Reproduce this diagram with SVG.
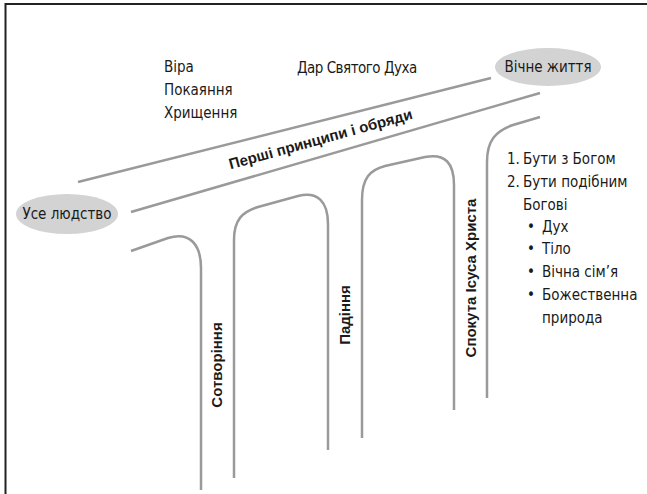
<svg xmlns="http://www.w3.org/2000/svg" width="647" height="494" viewBox="0 0 647 494">
<style>
.frame{stroke:#222;stroke-width:2;fill:none}
.road{stroke:#9a9a9a;stroke-width:2.5;fill:none;stroke-linecap:butt}
.oval{fill:#d3d3d3;stroke:none}
.t{font-family:"Liberation Sans Narrow","DejaVu Sans Condensed","Roboto Condensed","Liberation Sans",sans-serif;font-stretch:condensed;font-size:15px;fill:#1a1a1a}
.b{font-family:"Liberation Sans","DejaVu Sans",sans-serif;font-weight:bold;font-size:15px;fill:#1a1a1a}
</style>
<rect width="647" height="494" fill="#fff"/>
<path class="frame" d="M5.5,494 L5.5,4 L647,4"/>
<g id="connectors">
<path class="road" d="M78,182 L491,78"/>
<path class="road" d="M131,212 L540,93"/>
<path class="road" d="M131,251 L168,238 C190,231 201,245 201,268 L201,490"/>
<path class="road" d="M234,478 L234,240 C234,220 242,212 258,207 L298,196 C318,191 328,202 328,224 L328,450"/>
<path class="road" d="M362,438 L362,200 C362,178 370,170 385,166 L425,157 C445,153 454,163 454,185 L454,410"/>
<path class="road" d="M540,117 L513,125 C496,131 487,140 487,162 L487,398"/>
</g>
<g id="node-all">
<ellipse class="oval" cx="67" cy="214" rx="51" ry="20"/>
<text class="t" x="67" y="219" text-anchor="middle">Усе людство</text>
</g>
<g id="node-eternal">
<ellipse class="oval" cx="548" cy="67" rx="53" ry="19"/>
<text class="t" x="548" y="72" text-anchor="middle">Вічне життя</text>
</g>
<g id="node-principles">
<text class="t" x="164" y="72">Віра</text>
<text class="t" x="164" y="95">Покаяння</text>
<text class="t" x="164" y="118">Хрищення</text>
<text class="t" x="297" y="73" letter-spacing="-0.5">Дар Святого Духа</text>
</g>
<g id="node-road-label">
<text class="b" x="322" y="144" text-anchor="middle" transform="rotate(-15.5 322 144)">Перші принципи і обряди</text>
</g>
<g id="node-creation">
<text class="b" x="222" y="365" text-anchor="middle" transform="rotate(-90 222 365)">Сотворіння</text>
</g>
<g id="node-fall">
<text class="b" x="350" y="315" text-anchor="middle" transform="rotate(-90 350 315)">Падіння</text>
</g>
<g id="node-atonement">
<text class="b" x="476" y="278" text-anchor="middle" transform="rotate(-90 476 278)">Спокута Ісуса Христа</text>
</g>
<g id="node-goals">
<text class="t" x="507" y="164">1.</text>
<text class="t" x="523" y="164">Бути з Богом</text>
<text class="t" x="507" y="187">2.</text>
<text class="t" x="523" y="187">Бути подібним</text>
<text class="t" x="523" y="210">Богові</text>
<text class="t" x="527" y="232">•</text>
<text class="t" x="542" y="232">Дух</text>
<text class="t" x="527" y="254">•</text>
<text class="t" x="542" y="254">Тіло</text>
<text class="t" x="527" y="277">•</text>
<text class="t" x="542" y="277">Вічна сім’я</text>
<text class="t" x="527" y="300">•</text>
<text class="t" x="542" y="300">Божественна</text>
<text class="t" x="542" y="323">природа</text>
</g>
</svg>
